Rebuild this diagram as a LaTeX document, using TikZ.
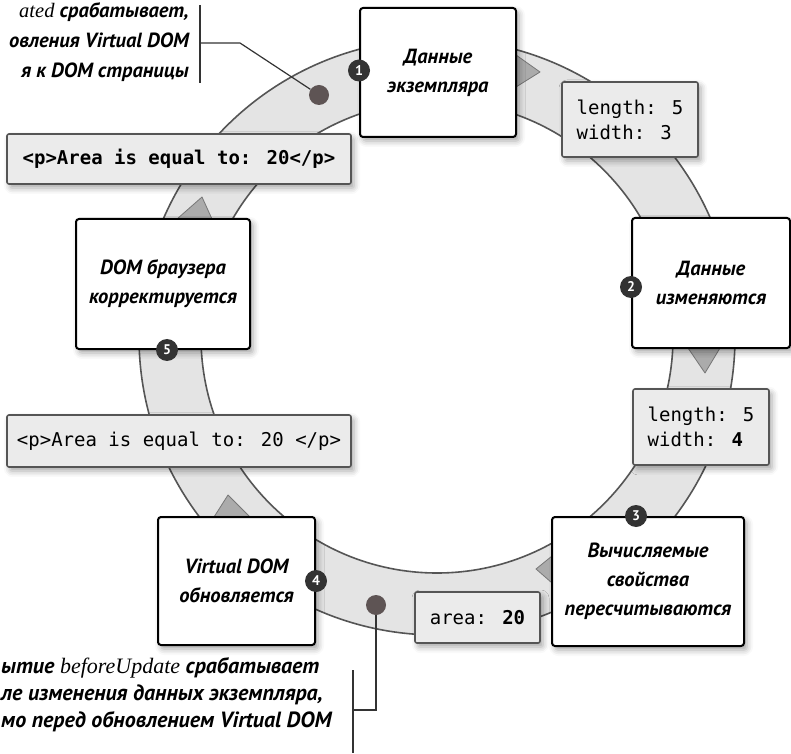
\documentclass[tikz,border=0pt]{standalone}
\usepackage{fontspec}
\setmainfont{PT Sans}
\newfontfamily\codefont{DejaVu Sans Mono}
\newfontfamily\hookfont{Liberation Serif}
\usetikzlibrary{positioning,shadows.blur}
\definecolor{bandgray}{HTML}{E4E4E4}
\definecolor{edgegray}{HTML}{555555}
\definecolor{tipgray}{HTML}{ABABAB}
\definecolor{codegray}{HTML}{EBEBEB}
\definecolor{dotgray}{HTML}{5E5454}

\begin{document}
\begin{tikzpicture}[x=1pt, y=1pt,
  boxshadow/.style={blur shadow={shadow xshift=3pt, shadow yshift=-4pt, shadow blur radius=6pt, shadow opacity=35}},
  stagebox/.style={draw=black, fill=white, line width=2pt, rounded corners=3pt, align=center, boxshadow,
    font=\fontsize{20.5}{29}\selectfont\bfseries\itshape},
  codebox/.style={draw=edgegray, fill=codegray, line width=1.6pt, rounded corners=2pt, align=left, boxshadow,
    font=\codefont\fontsize{19}{25}\selectfont},
  stepnum/.style={circle, fill=black!80, text=white, inner sep=0pt, minimum size=22pt, font=\fontsize{14}{14}\selectfont\bfseries},
  hookdot/.style={circle, fill=dotgray, inner sep=0pt, minimum size=20pt},
  tip/.style={fill=tipgray, draw=edgegray!80, line width=0.8pt, line join=round},
  note/.style={inner sep=0pt, font=\fontsize{22}{30}\selectfont\bfseries\itshape},
  lead/.style={draw=black!80, line width=1.2pt}]
\useasboundingbox (0,0) rectangle (791,753);

\coordinate (ring) at (437,416);
\fill[bandgray, even odd rule] (ring) circle (298pt) (ring) circle (236pt);
\draw[edgegray, line width=1.6pt] (ring) circle (298pt) (ring) circle (236pt);

\fill[tip] (516,698) -- (540,681) -- (516,666) -- cycle;
\fill[tip] (688,405) -- (705,380) -- (720,405) -- cycle;
\fill[tip] (552,197) -- (536,184) -- (552,170) -- cycle;
\fill[tip] (214,236) -- (228,258) -- (250,236) -- cycle;
\fill[tip] (177,534) -- (202,556) -- (212,534) -- cycle;

\node[hookdot] (upddot) at (319,658) {};
\node[hookdot] (bupdot) at (376,148) {};

\node[codebox, minimum width=344pt, minimum height=50pt, font=\codefont\bfseries\fontsize{19}{25}\selectfont] (pagehtml) at (179,594) {<p>Area is equal to: 20</p>};
\node[codebox, minimum width=344pt, minimum height=52pt] (vhtml) at (179,312) {<p>Area is equal to: 20 </p>};
\node[codebox, minimum width=136pt, minimum height=75pt] (dataold) at (630,633.5) {length: 5\\width: 3};
\node[codebox, minimum width=136pt, minimum height=76pt] (datanew) at (701,326) {length: 5\\width: \textbf{4}};
\node[codebox, minimum width=125pt, minimum height=51pt] (areaval) at (477.5,135.5) {area: \textbf{20}};

\node[stagebox, minimum width=156pt, minimum height=129pt] (inst) at (438,680.5) {Данные\\экземпляра};
\node[stagebox, minimum width=158pt, minimum height=130pt] (changed) at (711,470) {Данные\\изменяются};
\node[stagebox, minimum width=192pt, minimum height=129pt] (computed) at (648,171.5) {Вычисляемые\\свойства\\пересчитываются};
\node[stagebox, minimum width=157pt, minimum height=128pt] (vdom) at (236.5,172) {Virtual DOM\\обновляется};
\node[stagebox, minimum width=174pt, minimum height=130pt] (browser) at (163,469) {DOM браузера\\корректируется};

\node[stepnum] (n1) at ([yshift=2pt]inst.west) {1};
\node[stepnum] (n2) at ([yshift=-4pt]changed.west) {2};
\node[stepnum] (n3) at ([xshift=-12pt]computed.north) {3};
\node[stepnum] (n4) at (vdom.east) {4};
\node[stepnum] (n5) at ([xshift=4pt]browser.south) {5};

\node[note, anchor=east, align=right, font=\fontsize{20.5}{30}\selectfont\bfseries\itshape] (updnote) at (189,711) {{\hookfont\mdseries\itshape ated} срабатывает,\\овления Virtual DOM\\я к DOM страницы};
\coordinate (updtop) at (200,748);
\coordinate (updbot) at (200,670);
\coordinate (updbar) at (200,710);
\coordinate (updbend) at (240,710);
\draw[lead] (updtop) -- (updbot);
\draw[lead] (updbar) -- (updbend) -- (upddot);

\node[note, anchor=west, align=left, font=\fontsize{22}{27}\selectfont\bfseries\itshape] (bupnote) at (1,58) {ытие {\hookfont\mdseries\itshape beforeUpdate} срабатывает\\ле изменения данных экземпляра,\\мо перед обновлением Virtual DOM};
\coordinate (buptop) at (353,83);
\coordinate (bupbot) at (353,0);
\coordinate (bupbar) at (353,43);
\coordinate (bupbend) at (376,43);
\draw[lead] (buptop) -- (bupbot);
\draw[lead] (bupbar) -- (bupbend) -- (bupdot);
\end{tikzpicture}
\end{document}
